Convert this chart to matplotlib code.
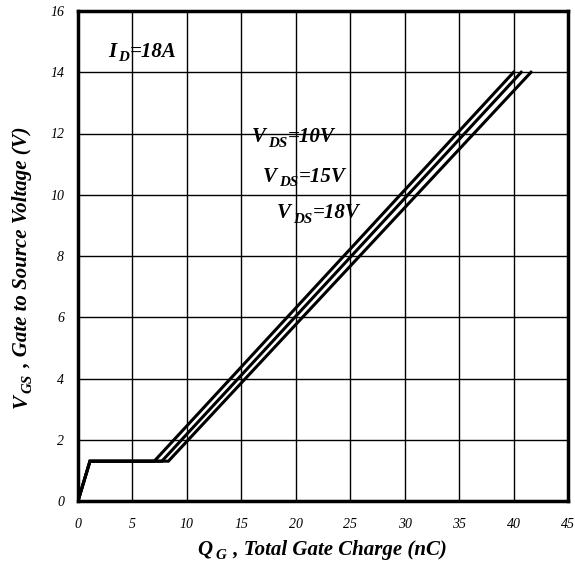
import matplotlib
matplotlib.use("Agg")
import matplotlib.pyplot as plt

# Data: gate charge curves (Qg in nC, Vgs in V)
qg_10v = [0, 1.1, 7.0, 40.0]
vgs_10v = [0, 1.3, 1.3, 14.0]
qg_15v = [0, 1.1, 7.7, 40.7]
vgs_15v = [0, 1.3, 1.3, 14.0]
qg_18v = [0, 1.1, 8.3, 41.6]
vgs_18v = [0, 1.3, 1.3, 14.0]

x_ticks = [0, 5, 10, 15, 20, 25, 30, 35, 40, 45]
y_ticks = [0, 2, 4, 6, 8, 10, 12, 14, 16]

plt.rcParams['font.family'] = ['Liberation Serif', 'DejaVu Serif']

fig = plt.figure(figsize=(5.75, 5.68), dpi=100)
ax = fig.add_axes([78/575, 1-501/568, (568-78)/575, (501-11)/568])
for q, v in [(qg_10v, vgs_10v), (qg_15v, vgs_15v), (qg_18v, vgs_18v)]:
    ax.plot(q, v, color='black', lw=2.2, solid_joinstyle='miter', zorder=3)
ax.set_xlim(0, 45)
ax.set_ylim(0, 16)
ax.set_xticks(x_ticks)
ax.set_yticks(y_ticks)
ax.set_xticklabels([str(t) for t in x_ticks], fontsize=10, style='italic')
ax.set_yticklabels([str(t) for t in y_ticks], fontsize=10, style='italic')
ax.tick_params(axis='x', length=0, pad=12)
ax.tick_params(axis='y', length=0, pad=10)
ax.grid(True, color='black', lw=1.0)
for s in ax.spines.values():
    s.set_linewidth(2.5)

SIZE = 15
BI = dict(fontweight='bold', style='italic')

def sub_label(x, y, main, sub, rest, size=SIZE):
    t1 = ax.text(x, y, main, fontsize=size, va='baseline', ha='left', **BI)
    fig.canvas.draw()
    bb = t1.get_window_extent()
    inv = ax.transData.inverted()
    base_px = ax.transData.transform((0, y))[1]
    x2, ysub = inv.transform((bb.x1 + 2, base_px - size * 0.3))
    t2 = ax.text(x2, ysub, sub, fontsize=size * 0.72, va='baseline', ha='left', **BI)
    fig.canvas.draw()
    bb2 = t2.get_window_extent()
    x3, _ = inv.transform((bb2.x1 + 0.5, 0))
    ax.text(x3, y, rest, fontsize=size, va='baseline', ha='left', **BI)

sub_label(2.75, 14.5, 'I', 'D', '=18A')
sub_label(16.0, 11.72, 'V', 'DS', '=10V')
sub_label(17.0, 10.42, 'V', 'DS', '=15V')
sub_label(18.3, 9.24, 'V', 'DS', '=18V')

W, H = 575, 568
def fx(px):
    return px / W
def fy(py):
    return 1 - py / H

# X axis label
base_y = 555
t = fig.text(fx(197), fy(base_y), 'Q', fontsize=SIZE, va='baseline', ha='left', **BI)
fig.canvas.draw()
bb = t.get_window_extent()
t = fig.text((bb.x1 + 3) / W, fy(base_y + 4), 'G', fontsize=SIZE * 0.72, va='baseline', ha='left', **BI)
fig.canvas.draw()
bb = t.get_window_extent()
fig.text((bb.x1 + 2) / W, fy(base_y), ' , Total Gate Charge (nC)', fontsize=SIZE,
         va='baseline', ha='left', **BI)

# Y axis label, rotated, reading bottom-to-top
base_x = 27
t = fig.text(fx(base_x), fy(408), 'V', fontsize=SIZE, rotation=90,
             va='baseline', ha='left', rotation_mode='anchor', **BI)
fig.canvas.draw()
bb = t.get_window_extent()
top = H - bb.y1
t = fig.text(fx(base_x + 4), fy(top - 1), 'GS', fontsize=SIZE * 0.72, rotation=90,
             va='baseline', ha='left', rotation_mode='anchor', **BI)
fig.canvas.draw()
bb = t.get_window_extent()
top = H - bb.y1
fig.text(fx(base_x), fy(top - 2), ' , Gate to Source Voltage (V)', fontsize=SIZE, rotation=90,
         va='baseline', ha='left', rotation_mode='anchor', **BI)

fig.savefig('out.png', dpi=100)
